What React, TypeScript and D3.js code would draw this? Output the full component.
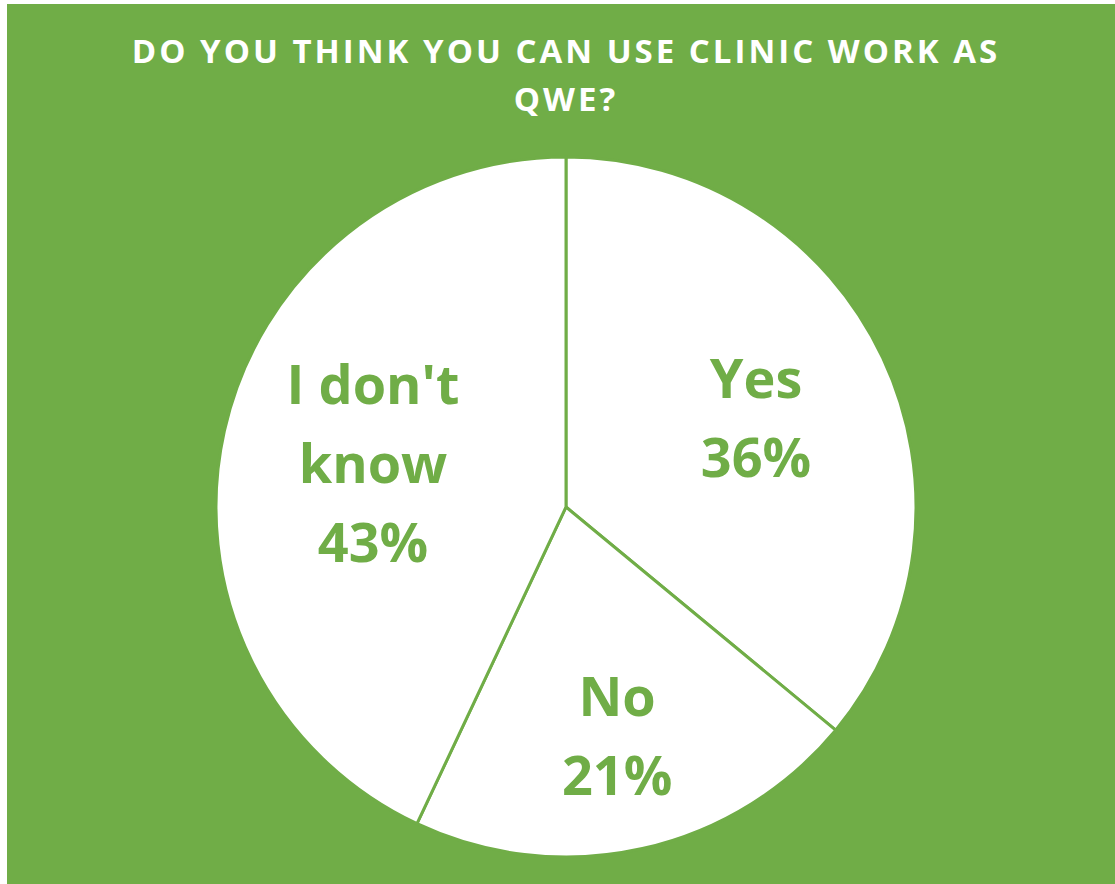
import React from "react";
import * as d3 from "d3";

const categories = ["Yes", "No", "I don't know"];
const values = [36, 21, 43];
const labelLines = [["Yes"], ["No"], ["I don't", "know"]];
const titleLines = ["DO YOU THINK YOU CAN USE CLINIC WORK AS", "QWE?"];

const W = 1115;
const H = 884;
const GREEN = "#70AD47";

export default function App() {
  const cx = 566;
  const cy = 507;
  const r = 350;
  const labelFactor = [0.6, 0.67, 0.565];

  const pie = d3.pie<number>().sort(null).value((d) => d);
  const arcs = pie(values);
  const arc = d3.arc<d3.PieArcDatum<number>>().innerRadius(0).outerRadius(r);

  const fontSize = 54;
  const lineH = 79;

  return (
    <>
      <style>{`body{margin:0}`}</style>
      <svg width={W} height={H} style={{ display: "block" }}>
        <rect x={0} y={0} width={W} height={H} fill="#ffffff" />
        <rect x={7} y={4} width={W - 7} height={H - 4} fill={GREEN} />
        <g fontFamily="'Open Sans', sans-serif" fontWeight="bold" fill="#ffffff" textAnchor="middle">
          {titleLines.map((t, i) => (
            <text key={i} x={566} y={63 + i * 48} fontSize={33} letterSpacing={3}>
              {t}
            </text>
          ))}
        </g>
        <g transform={`translate(${cx},${cy})`}>
          {arcs.map((a, i) => (
            <path key={i} d={arc(a) || ""} fill="#ffffff" stroke={GREEN} strokeWidth={3} strokeLinejoin="round" />
          ))}
          {arcs.map((a, i) => {
            const mid = (a.startAngle + a.endAngle) / 2;
            const rr = r * labelFactor[i];
            const x = Math.sin(mid) * rr;
            const y = -Math.cos(mid) * rr;
            const lines = [...labelLines[i], `${values[i]}%`];
            const n = lines.length;
            const firstBase = y - ((n - 1) * lineH) / 2 + fontSize * 0.36;
            return (
              <text
                key={"l" + i}
                fontFamily="'Open Sans', sans-serif"
                fontWeight="bold"
                fontSize={fontSize}
                fill={GREEN}
                textAnchor="middle"
              >
                {lines.map((ln, j) => (
                  <tspan key={j} x={x} y={firstBase + j * lineH}>
                    {ln}
                  </tspan>
                ))}
              </text>
            );
          })}
        </g>
      </svg>
    </>
  );
}
